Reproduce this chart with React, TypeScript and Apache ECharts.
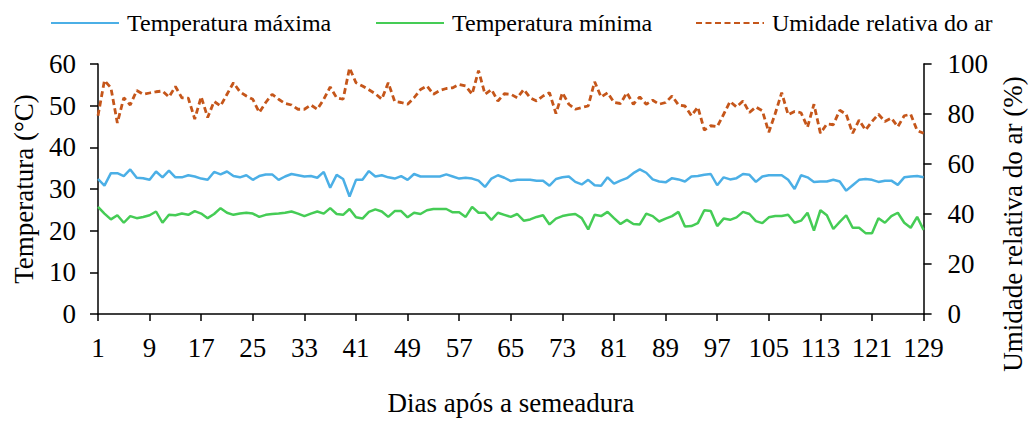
import React, { useEffect, useRef } from "react";
import * as echarts from "echarts";

const days: string[] = Array.from({ length: 129 }, (_, i) => String(i + 1));

const tempMax: number[] = [
  32.4, 30.8, 33.8, 33.8, 33.1, 34.7, 32.7, 32.6, 32.2, 34.2, 32.8, 34.4, 32.8, 32.8, 33.3, 33.0, 32.5, 32.2, 34.1, 33.5, 34.2, 33.1,
  32.8, 33.3, 32.2, 33.1, 33.5, 33.5, 32.2, 33.0, 33.6, 33.3, 33.0, 33.1, 32.7, 34.1, 30.3, 33.4, 32.4, 28.2, 32.2, 32.2, 34.3,
  33.0, 33.3, 32.8, 32.5, 33.1, 32.2, 33.6, 33.0, 33.0, 33.0, 33.0, 33.5, 33.0, 32.5, 32.7, 32.5, 32.0, 30.5, 32.5, 33.3, 32.7,
  31.9, 32.2, 32.2, 32.2, 32.0, 32.0, 30.8, 32.4, 32.8, 33.0, 31.7, 31.1, 32.2, 30.9, 30.8, 32.8, 31.3, 32.0, 32.6, 33.8, 34.7, 33.9,
  32.3, 31.8, 31.6, 32.6, 32.3, 31.8, 33.0, 33.1, 33.4, 33.6, 30.9, 32.8, 32.3, 32.6, 33.6, 33.4, 31.7, 33.0, 33.3, 33.3, 33.3,
  32.2, 30.0, 33.3, 32.8, 31.7, 31.8, 31.8, 32.2, 31.8, 29.6, 30.9, 32.2, 32.4, 32.2, 31.7, 32.0, 32.0, 31.0, 32.8, 33.0, 33.1, 32.8,
];

const tempMin: number[] = [
  25.7, 24.1, 22.7, 23.7, 21.9, 23.5, 23.0, 23.3, 23.7, 24.6, 21.9, 23.8, 23.7, 24.1, 23.8, 24.7, 24.1, 23.0, 24.0, 25.4, 24.3, 23.8,
  24.1, 24.3, 24.1, 23.3, 23.8, 24.0, 24.1, 24.3, 24.6, 24.1, 23.5, 24.1, 24.6, 24.1, 25.4, 24.0, 23.8, 25.2, 23.2, 22.9, 24.5,
  25.1, 24.6, 23.3, 24.7, 24.7, 23.2, 24.3, 24.0, 24.9, 25.2, 25.2, 25.2, 24.4, 24.4, 23.3, 25.7, 24.3, 24.3, 22.6, 24.3, 23.8,
  23.3, 24.0, 22.4, 22.7, 23.3, 23.7, 21.5, 22.9, 23.5, 23.8, 24.0, 23.0, 20.3, 23.8, 23.5, 24.5, 23.0, 21.6, 22.6, 21.6, 21.5, 24.1,
  23.5, 22.2, 22.9, 23.5, 24.5, 21.0, 21.1, 21.8, 24.9, 24.7, 21.1, 22.9, 22.6, 23.2, 24.5, 24.0, 22.3, 21.8, 23.2, 23.5, 23.5,
  23.8, 21.9, 22.4, 24.3, 20.0, 24.9, 23.7, 20.4, 22.1, 23.7, 20.7, 20.7, 19.4, 19.4, 23.0, 21.9, 23.5, 24.3, 21.9, 20.7, 23.3, 20.2,
];

const humidity: number[] = [
  79.3, 93.4, 90.5, 76.4, 86.5, 83.6, 89.4, 87.9, 88.4, 88.9, 89.2, 86.8, 91.0, 86.5, 86.3, 78.0, 86.9, 78.6, 85.0, 83.2, 87.9, 92.5,
  88.9, 87.2, 85.9, 80.6, 84.6, 87.9, 85.9, 84.2, 83.6, 81.9, 81.9, 83.6, 81.9, 85.9, 90.8, 86.5, 85.9, 98.4, 92.5, 91.2, 89.7,
  88.1, 85.9, 92.5, 85.0, 84.6, 83.9, 86.5, 89.8, 91.2, 87.9, 89.4, 90.2, 90.5, 91.8, 91.2, 87.9, 97.4, 87.9, 89.8, 85.2, 88.1,
  87.9, 86.5, 89.8, 86.5, 85.2, 87.2, 88.5, 80.2, 88.5, 83.9, 81.9, 82.6, 83.2, 92.9, 86.8, 88.5, 84.6, 84.2, 88.5, 83.9, 86.8, 83.9,
  85.5, 83.9, 84.6, 87.2, 83.6, 83.2, 79.3, 82.8, 73.6, 75.3, 74.9, 79.9, 85.0, 82.8, 85.2, 80.6, 82.8, 81.3, 72.7, 80.2, 88.5,
  79.7, 81.0, 80.5, 74.7, 83.9, 72.3, 76.0, 75.7, 81.5, 79.9, 72.3, 77.6, 73.6, 77.0, 79.9, 77.0, 78.4, 74.9, 79.3, 79.9, 73.4, 72.3,
];

const seriesNames: string[] = ["Temperatura máxima", "Temperatura mínima", "Umidade relativa do ar"];
const legendLefts: number[] = [50, 375, 695];

const FONT = "Liberation Serif";

export default function App() {
  const ref = useRef<HTMLDivElement>(null);

  useEffect(() => {
    if (!ref.current) return;
    const chart = echarts.init(ref.current, null, { renderer: "svg" });
    const axisLineStyle = { color: "#000", width: 1.5 };
    const axisText = { fontFamily: FONT, fontSize: 27, color: "#000" };
    chart.setOption({
      animation: false,
      backgroundColor: "#fff",
      textStyle: { fontFamily: FONT, color: "#000" },
      legend: seriesNames.map((name, i) => ({
        top: 11,
        left: legendLefts[i],
        padding: 0,
        itemWidth: 68,
        itemHeight: 14,
        itemStyle: { opacity: 0 },
        textStyle: { fontFamily: FONT, fontSize: 24, color: "#000", padding: [0, 0, 0, 3] },
        data: [name],
      })),
      grid: { left: 98, right: 99, top: 64, bottom: 104, containLabel: false },
      xAxis: {
        type: "category",
        data: days,
        boundaryGap: false,
        name: "Dias após a semeadura",
        nameLocation: "middle",
        nameGap: 75,
        nameTextStyle: axisText,
        axisLine: { lineStyle: axisLineStyle },
        axisTick: { show: true, interval: 7, length: 7, inside: false, lineStyle: axisLineStyle },
        axisLabel: { interval: 7, margin: 20, ...axisText },
        splitLine: { show: false },
      },
      yAxis: [
        {
          type: "value",
          min: 0,
          max: 60,
          interval: 10,
          position: "left",
          name: "Temperatura (°C)",
          nameLocation: "middle",
          nameRotate: 90,
          nameGap: 61,
          nameTextStyle: axisText,
          axisLine: { show: true, lineStyle: axisLineStyle },
          axisTick: { show: true, length: 8, lineStyle: axisLineStyle },
          axisLabel: { margin: 22, ...axisText },
          splitLine: { show: false },
        },
        {
          type: "value",
          min: 0,
          max: 100,
          interval: 20,
          position: "right",
          name: "Umidade relativa do ar (%)",
          nameLocation: "middle",
          nameRotate: 90,
          nameGap: 70,
          nameTextStyle: { ...axisText, padding: [0, 70, 0, 0] },
          axisLine: { show: true, lineStyle: axisLineStyle },
          axisTick: { show: true, length: 8, lineStyle: axisLineStyle },
          axisLabel: { margin: 24, ...axisText },
          splitLine: { show: false },
        },
      ],
      series: [
        {
          name: seriesNames[0],
          type: "line",
          data: tempMax,
          yAxisIndex: 0,
          symbol: "none",
          lineStyle: { color: "#4BAFE6", width: 2.5 },
          itemStyle: { color: "#4BAFE6" },
        },
        {
          name: seriesNames[1],
          type: "line",
          data: tempMin,
          yAxisIndex: 0,
          symbol: "none",
          lineStyle: { color: "#45CC55", width: 2.5 },
          itemStyle: { color: "#45CC55" },
        },
        {
          name: seriesNames[2],
          type: "line",
          data: humidity,
          yAxisIndex: 1,
          symbol: "none",
          lineStyle: { color: "#C5561A", width: 2.8, type: [6, 3.5] },
          itemStyle: { color: "#C5561A" },
        },
      ],
    });
    return () => chart.dispose();
  }, []);

  return (
    <div
      ref={ref}
      style={{ position: "fixed", left: 0, top: 0, width: 1034, height: 421, background: "#fff" }}
    />
  );
}
